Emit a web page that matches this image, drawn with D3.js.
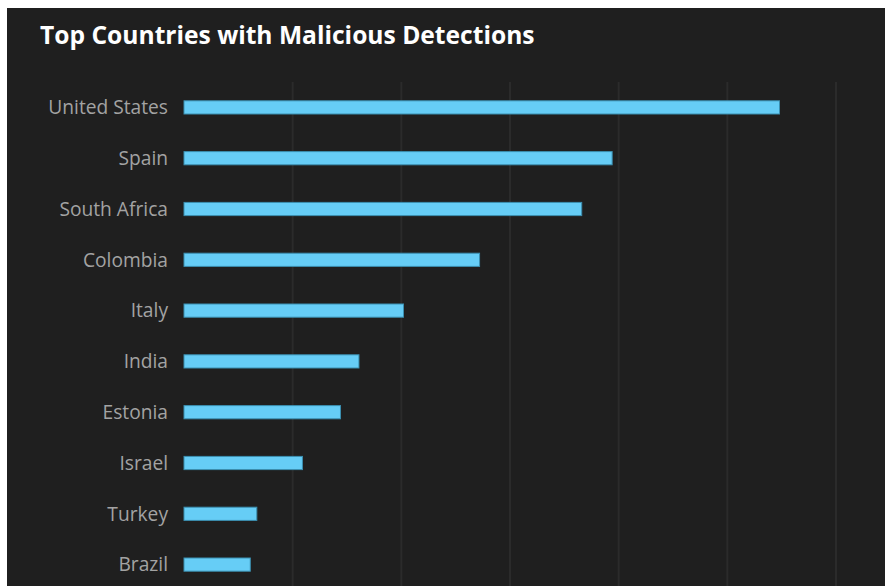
<!DOCTYPE html>
<html>
<head>
<meta charset="utf-8">
<script src="https://cdn.jsdelivr.net/npm/d3@7"></script>
<style>
  body { margin: 0; background: #fff; }
  .label { font-family: "Open Sans", sans-serif; font-size: 19.2px; fill: #a3a3a3; }
  .title { font-family: "Open Sans", sans-serif; font-size: 24.6px; font-weight: bold; fill: #fff; }
</style>
</head>
<body>
<svg width="885" height="586"></svg>
<script>
var countries = ["United States", "Spain", "South Africa", "Colombia", "Italy",
                 "India", "Estonia", "Israel", "Turkey", "Brazil"];
var detections = [548, 394, 366, 272, 202, 161, 144, 109, 67, 61];
var gridTicks = [100, 200, 300, 400, 500, 600];

var svg = d3.select("svg"),
    width = +svg.attr("width"),
    height = +svg.attr("height");

// dark panel
svg.append("rect")
    .attr("x", 7).attr("y", 8)
    .attr("width", width - 7).attr("height", height - 8)
    .attr("fill", "#1f1f1f");

svg.append("text")
    .attr("class", "title")
    .attr("x", 40).attr("y", 44)
    .text("Top Countries with Malicious Detections");

var x = d3.scaleLinear().domain([0, 600]).range([184, 836]);
var y = d3.scaleBand().domain(countries).range([82, 590])
    .paddingInner(0.74).paddingOuter(0.37);

svg.append("g")
  .selectAll("line")
  .data(gridTicks)
  .enter().append("line")
    .attr("x1", function(d) { return x(d); })
    .attr("x2", function(d) { return x(d); })
    .attr("y1", 82).attr("y2", height)
    .attr("stroke", "#2b2b2b")
    .attr("stroke-width", 2);

var data = countries.map(function(c, i) { return {name: c, value: detections[i]}; });

svg.append("g")
  .selectAll("rect")
  .data(data)
  .enter().append("rect")
    .attr("x", x(0))
    .attr("y", function(d) { return y(d.name); })
    .attr("width", function(d) { return x(d.value) - x(0); })
    .attr("height", y.bandwidth())
    .attr("fill", "#66cdf6")
    .attr("stroke", "#3b8fb0")
    .attr("stroke-width", 1);

svg.append("g")
  .selectAll("text")
  .data(data)
  .enter().append("text")
    .attr("class", "label")
    .attr("x", 168)
    .attr("y", function(d) { return y(d.name) + y.bandwidth() / 2; })
    .attr("dy", "0.35em")
    .attr("text-anchor", "end")
    .text(function(d) { return d.name; });
</script>
</body>
</html>
